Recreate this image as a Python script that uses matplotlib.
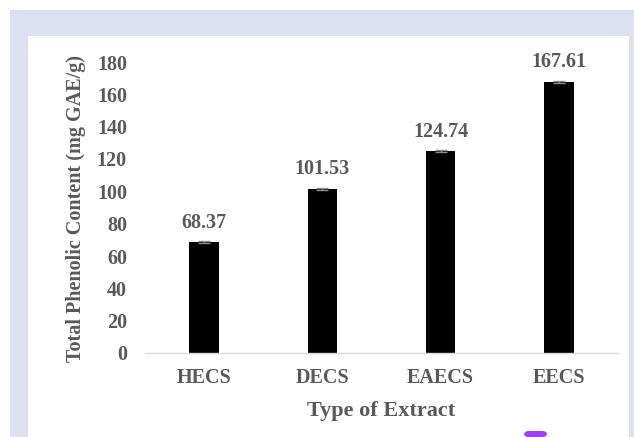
import matplotlib
matplotlib.use("Agg")
import matplotlib.pyplot as plt
from matplotlib.patches import Rectangle, FancyBboxPatch

categories = ["HECS", "DECS", "EAECS", "EECS"]
tpc_values = [68.37, 101.53, 124.74, 167.61]
tpc_errors = [0.6, 0.6, 0.6, 0.6]
y_ticks = [0, 20, 40, 60, 80, 100, 120, 140, 160, 180]

W, H = 634, 437
TXT = "#595959"
FONT = ["Liberation Serif", "DejaVu Serif"]
FS = 14.5

fig = plt.figure(figsize=(W / 100, H / 100), dpi=100, facecolor="white")

# lavender frame + white panel (pixel coords from the top-left)
def px_rect(x0, y0, x1, y1, color):
    return Rectangle((x0 / W, 1 - y1 / H), (x1 - x0) / W, (y1 - y0) / H,
                     transform=fig.transFigure, facecolor=color,
                     edgecolor="none", zorder=-2)

fig.patches.append(px_rect(10, 10, W, H, "#dde0ee"))
fig.patches.append(px_rect(28, 36, 629, H, "white"))
fig.patches.append(FancyBboxPatch((524 / W, 0), 23 / W, 6 / H,
                                  boxstyle="round,pad=0,rounding_size=0.008",
                                  transform=fig.transFigure,
                                  facecolor="#a43cff", edgecolor="none",
                                  zorder=-1))

ax = fig.add_axes([145 / W, 1 - 353 / H, 473 / W, 291 / H])
ax.set_facecolor("none")
ax.set_zorder(2)

x = range(len(categories))
ax.bar(x, tpc_values, width=0.25, color="black", zorder=2)
ax.errorbar(x, tpc_values, yerr=tpc_errors, fmt="none", ecolor="#8c8c8c",
            elinewidth=1, capsize=4, capthick=1, zorder=3)

for i, v in enumerate(tpc_values):
    ax.annotate(f"{v:.2f}", (i, v), xytext=(0, 7), textcoords="offset points",
                ha="center", va="bottom", fontsize=FS, fontweight="bold",
                color=TXT, family=FONT)

ax.set_xlim(-0.5, 3.5)
ax.set_ylim(0, 180)
ax.set_yticks(y_ticks)
ax.set_xticks(list(x))
ax.set_xticklabels(categories)
for lab in ax.get_xticklabels() + ax.get_yticklabels():
    lab.set_family(FONT)
    lab.set_fontweight("bold")
    lab.set_fontsize(FS)
    lab.set_color(TXT)
ax.tick_params(axis="both", length=0)
ax.tick_params(axis="x", pad=11)
ax.tick_params(axis="y", pad=13)

for s in ["top", "right", "left"]:
    ax.spines[s].set_visible(False)
ax.spines["bottom"].set_color("#d9d9d9")
ax.spines["bottom"].set_linewidth(1)

ax.set_ylabel("Total Phenolic Content (mg GAE/g)", fontsize=FS,
              fontweight="bold", color=TXT, family=FONT)
ax.yaxis.label.set_va("center")
ax.yaxis.set_label_coords(-0.146, 0.497)
ax.set_xlabel("Type of Extract", fontsize=16, fontweight="bold",
              color=TXT, family=FONT)
ax.xaxis.label.set_va("center")
ax.xaxis.set_label_coords(0.5, -0.2)

fig.savefig("out.png", dpi=100, facecolor="white")
